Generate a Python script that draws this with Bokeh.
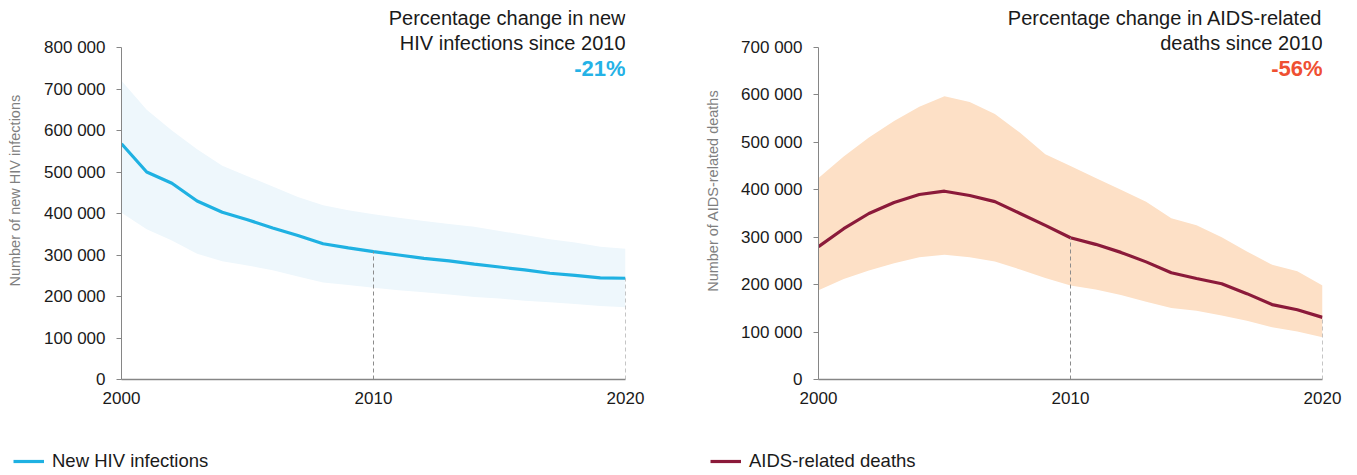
import math
from bokeh.plotting import figure
from bokeh.layouts import row, column
from bokeh.models import FixedTicker, Label, Legend, LegendItem
from bokeh.embed import file_html
from bokeh.resources import INLINE

# ---------------- data ----------------
years = [2000, 2001, 2002, 2003, 2004, 2005, 2006, 2007, 2008, 2009, 2010,
         2011, 2012, 2013, 2014, 2015, 2016, 2017, 2018, 2019, 2020]

hiv_central = [568000, 500000, 473000, 430000, 403000, 385000, 365000, 347000, 327000, 317000, 308000,
               300000, 292000, 286000, 278000, 271000, 264000, 256000, 251000, 245000, 244000]
hiv_upper = [720000, 650000, 600000, 555000, 515000, 490000, 465000, 440000, 420000, 408000, 398000,
             390000, 382000, 375000, 368000, 358000, 348000, 338000, 330000, 320000, 315000]
hiv_lower = [402000, 362000, 335000, 303000, 285000, 275000, 263000, 248000, 234000, 228000, 221000,
             215000, 210000, 205000, 199000, 195000, 190000, 186000, 182000, 177000, 174000]

deaths_central = [280000, 318000, 350000, 373000, 390000, 397000, 388000, 375000, 350000, 325000, 299000,
                  285000, 268000, 248000, 225000, 213000, 202000, 181000, 158000, 147000, 131000]
deaths_upper = [425000, 470000, 510000, 545000, 575000, 597000, 585000, 560000, 520000, 475000, 450000,
                425000, 400000, 375000, 340000, 325000, 300000, 270000, 242000, 228000, 198000]
deaths_lower = [188000, 212000, 230000, 245000, 258000, 263000, 258000, 249000, 232000, 214000, 198000,
                190000, 178000, 164000, 151000, 145000, 135000, 124000, 110000, 101000, 89000]

x_ticks = [2000, 2010, 2020]
x_tick_labels = ["2000", "2010", "2020"]

hiv_y_ticks = [0, 100000, 200000, 300000, 400000, 500000, 600000, 700000, 800000]
hiv_y_tick_labels = ["0", "100 000", "200 000", "300 000", "400 000", "500 000", "600 000", "700 000", "800 000"]
deaths_y_ticks = [0, 100000, 200000, 300000, 400000, 500000, 600000, 700000]
deaths_y_tick_labels = ["0", "100 000", "200 000", "300 000", "400 000", "500 000", "600 000", "700 000"]

hiv_title = ["Percentage change in new", "HIV infections since 2010"]
hiv_change = "-21%"
deaths_title = ["Percentage change in AIDS-related", "deaths since 2010"]
deaths_change = "-56%"

hiv_series_name = "New HIV infections"
deaths_series_name = "AIDS-related deaths"
hiv_axis_title = "Number of new HIV infections"
deaths_axis_title = "Number of AIDS-related deaths"

ref_year = 2010
last_year = 2020

FONT = "Liberation Sans"
AXIS_GREY = "#868686"
TEXT = "#1a1a1a"

MAIN_H = 420
FRAME_TOP = 4       # page y of frame top
FRAME_BOTTOM = 379  # page y of the zero line
TOP_TICK_Y = 47     # page y of the highest tick
FRAME_W = 504
STRIP_W = 28        # narrow strip holding the rotated y-axis title


def blank(width, height):
    f = figure(width=width, height=height, x_range=(0, 1), y_range=(0, 1),
               output_backend="svg", toolbar_location=None,
               min_border_left=0, min_border_right=0, min_border_top=0, min_border_bottom=0)
    f.axis.visible = False
    f.xgrid.visible = False
    f.ygrid.visible = False
    f.outline_line_color = None
    return f


def title_strip(axis_title):
    s = blank(STRIP_W, MAIN_H)
    s.add_layout(Label(x=0.5, y=(MAIN_H - 208.5) / MAIN_H, text=axis_title,
                       angle=math.pi / 2, angle_units="rad",
                       text_align="center", text_baseline="middle",
                       text_font=FONT, text_font_size="14.5px", text_color="#7f7f7f"))
    return s


def panel(width, border_left, y_ticks, y_labels,
          central, upper, lower, line_color, band_color, title_lines, change_text,
          change_color):
    top_tick = y_ticks[-1]
    px_per_unit = (FRAME_BOTTOM - TOP_TICK_Y) / top_tick
    y_max = (FRAME_BOTTOM - FRAME_TOP) / px_per_unit
    p = figure(width=width, height=MAIN_H, x_range=(2000, 2020), y_range=(0, y_max),
               output_backend="svg", toolbar_location=None,
               min_border_left=border_left, min_border_right=width - border_left - FRAME_W,
               min_border_top=FRAME_TOP, min_border_bottom=MAIN_H - FRAME_BOTTOM)
    p.outline_line_color = None
    p.xgrid.visible = False
    p.ygrid.visible = False

    # band and central line
    p.varea(x=years, y1=lower, y2=upper, fill_color=band_color, fill_alpha=1.0)
    p.line(x=years, y=central, line_color=line_color, line_width=3.2)

    # dashed drops at 2010 and 2020
    i_ref = years.index(ref_year)
    i_last = years.index(last_year)
    p.segment(x0=[ref_year, last_year], y0=[0, 0],
              x1=[ref_year, last_year], y1=[central[i_ref], central[i_last]],
              line_color="#8c8c8c", line_width=1, line_dash="4 3")

    # x axis
    p.xaxis.ticker = FixedTicker(ticks=x_ticks)
    p.xaxis.major_label_overrides = {t: s for t, s in zip(x_ticks, x_tick_labels)}
    p.xaxis.major_tick_out = 0
    p.xaxis.major_tick_in = 0
    p.xaxis.minor_tick_out = 0
    p.xaxis.minor_tick_in = 0
    p.xaxis.axis_line_color = AXIS_GREY
    p.xaxis.axis_line_width = 1.5
    p.xaxis.major_label_text_font = FONT
    p.xaxis.major_label_text_font_size = "17px"
    p.xaxis.major_label_text_color = TEXT
    p.xaxis.major_label_standoff = 12

    # y axis
    p.yaxis.ticker = FixedTicker(ticks=y_ticks)
    p.yaxis.major_label_overrides = {t: s for t, s in zip(y_ticks, y_labels)}
    p.yaxis.bounds = (0, top_tick)
    p.yaxis.major_tick_out = 5
    p.yaxis.major_tick_in = 0
    p.yaxis.minor_tick_out = 0
    p.yaxis.minor_tick_in = 0
    p.yaxis.axis_line_color = AXIS_GREY
    p.yaxis.major_tick_line_color = AXIS_GREY
    p.yaxis.major_label_text_font = FONT
    p.yaxis.major_label_text_font_size = "17px"
    p.yaxis.major_label_text_color = TEXT
    p.yaxis.major_label_standoff = 11

    def yval(page_y):
        return (FRAME_BOTTOM - page_y) / px_per_unit

    # header text (inside frame, right aligned to 2020)
    for txt, py in zip(title_lines, [17, 42]):
        p.add_layout(Label(x=2020, y=yval(py), text=txt, text_align="right",
                           text_baseline="middle", text_font=FONT, text_font_size="20px",
                           text_color=TEXT))
    p.add_layout(Label(x=2020, y=yval(68), text=change_text, text_align="right",
                       text_baseline="middle", text_font=FONT, text_font_size="22px",
                       text_font_style="bold", text_color=change_color))
    return p


def legend_fig(width, x_off, series_name, central, line_color):
    # the series is drawn out of view; only its legend entry shows
    q = blank(width, 475 - MAIN_H)
    r = q.line(x=years, y=central, line_color=line_color, line_width=3.2)
    leg = Legend(items=[LegendItem(label=series_name, renderers=[r])],
                 location=(x_off, 3), orientation="horizontal",
                 padding=0, margin=0, spacing=0,
                 glyph_width=31, glyph_height=22, label_height=22, label_standoff=8,
                 label_text_font=FONT, label_text_font_size="18.5px", label_text_color=TEXT,
                 border_line_alpha=0, background_fill_alpha=0)
    q.add_layout(leg)
    return q


# left block: page x 0..698 (frame 121..625); right block: 698..1357 (frame 818..1322)
t1 = title_strip(hiv_axis_title)
p1 = panel(670, 121 - STRIP_W, hiv_y_ticks, hiv_y_tick_labels,
           hiv_central, hiv_upper, hiv_lower, "#1fb1e2", "#eef7fc",
           hiv_title, hiv_change, "#25b2e6")
t2 = title_strip(deaths_axis_title)
p2 = panel(631, 120 - STRIP_W, deaths_y_ticks, deaths_y_tick_labels,
           deaths_central, deaths_upper, deaths_lower, "#8b1a3a", "#fde0c6",
           deaths_title, deaths_change, "#ef5032")

q1 = legend_fig(698, 13, hiv_series_name, hiv_central, "#1fb1e2")
q2 = legend_fig(659, 12, deaths_series_name, deaths_central, "#8b1a3a")

layout = column(row(t1, p1, t2, p2), row(q1, q2))
open("out.html", "w").write(file_html(layout, INLINE))
